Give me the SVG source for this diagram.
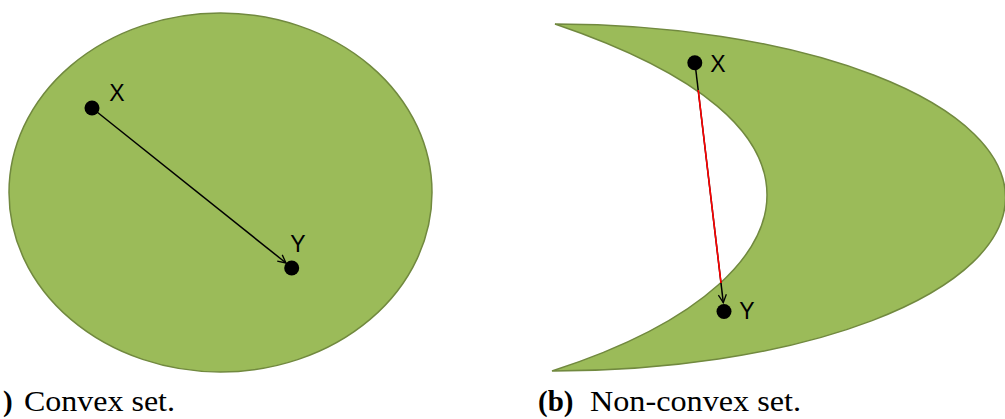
<svg xmlns="http://www.w3.org/2000/svg" width="1005" height="419" viewBox="0 0 1005 419">
<style>
.set{fill:#9BBB59;stroke:#71893F;stroke-width:1.5}
.dot{fill:#000}
.lbl{font-family:"Liberation Sans",Arial,sans-serif;font-size:23px;fill:#000;text-anchor:middle}
.cap{font-family:"Liberation Serif","Times New Roman",serif;font-size:29px;fill:#000}
.ln{stroke:#000;stroke-width:1.5;fill:none}
</style>
<defs>
<marker id="ah" viewBox="0 0 10 10" refX="9" refY="5" markerWidth="10" markerHeight="10" markerUnits="userSpaceOnUse" orient="auto">
<path d="M1,1 L9,5 L1,9" fill="none" stroke="#000" stroke-width="1.3"/>
</marker>
</defs>
<g id="convex-set">
<ellipse class="set" cx="220.5" cy="192.5" rx="211.5" ry="179.5"/>
</g>
<g id="nonconvex-set">
<path class="set" d="M555,24 A452,173.5 0 0 1 552,371 C710,320 767,250 767,195 C767,135 705,75 555,24 Z"/>
</g>
<g id="connectors">
<line class="ln" x1="92" y1="108" x2="286" y2="263" marker-end="url(#ah)"/>
<line class="ln" x1="695" y1="63" x2="723.3" y2="302.7" marker-end="url(#ah)"/>
<line x1="698.2" y1="90" x2="721" y2="283" stroke="#FF0000" stroke-width="1.6"/>
</g>
<g id="node-left-x">
<circle class="dot" cx="92" cy="108" r="7.5"/>
<text class="lbl" x="117" y="101">X</text>
</g>
<g id="node-left-y">
<circle class="dot" cx="291.7" cy="268" r="7.5"/>
<text class="lbl" x="298" y="252">Y</text>
</g>
<g id="node-right-x">
<circle class="dot" cx="694.8" cy="62.8" r="7.5"/>
<text class="lbl" x="718" y="72">X</text>
</g>
<g id="node-right-y">
<circle class="dot" cx="724" cy="311.5" r="7.5"/>
<text class="lbl" x="747" y="319">Y</text>
</g>
<g id="captions">
<text class="cap" x="3" y="411"><tspan font-weight="bold">)</tspan> <tspan x="24" textLength="151" lengthAdjust="spacingAndGlyphs">Convex set.</tspan></text>
<text class="cap" x="538" y="411"><tspan font-weight="bold">(b)</tspan> <tspan x="590" textLength="211" lengthAdjust="spacingAndGlyphs">Non-convex set.</tspan></text>
</g>
</svg>
